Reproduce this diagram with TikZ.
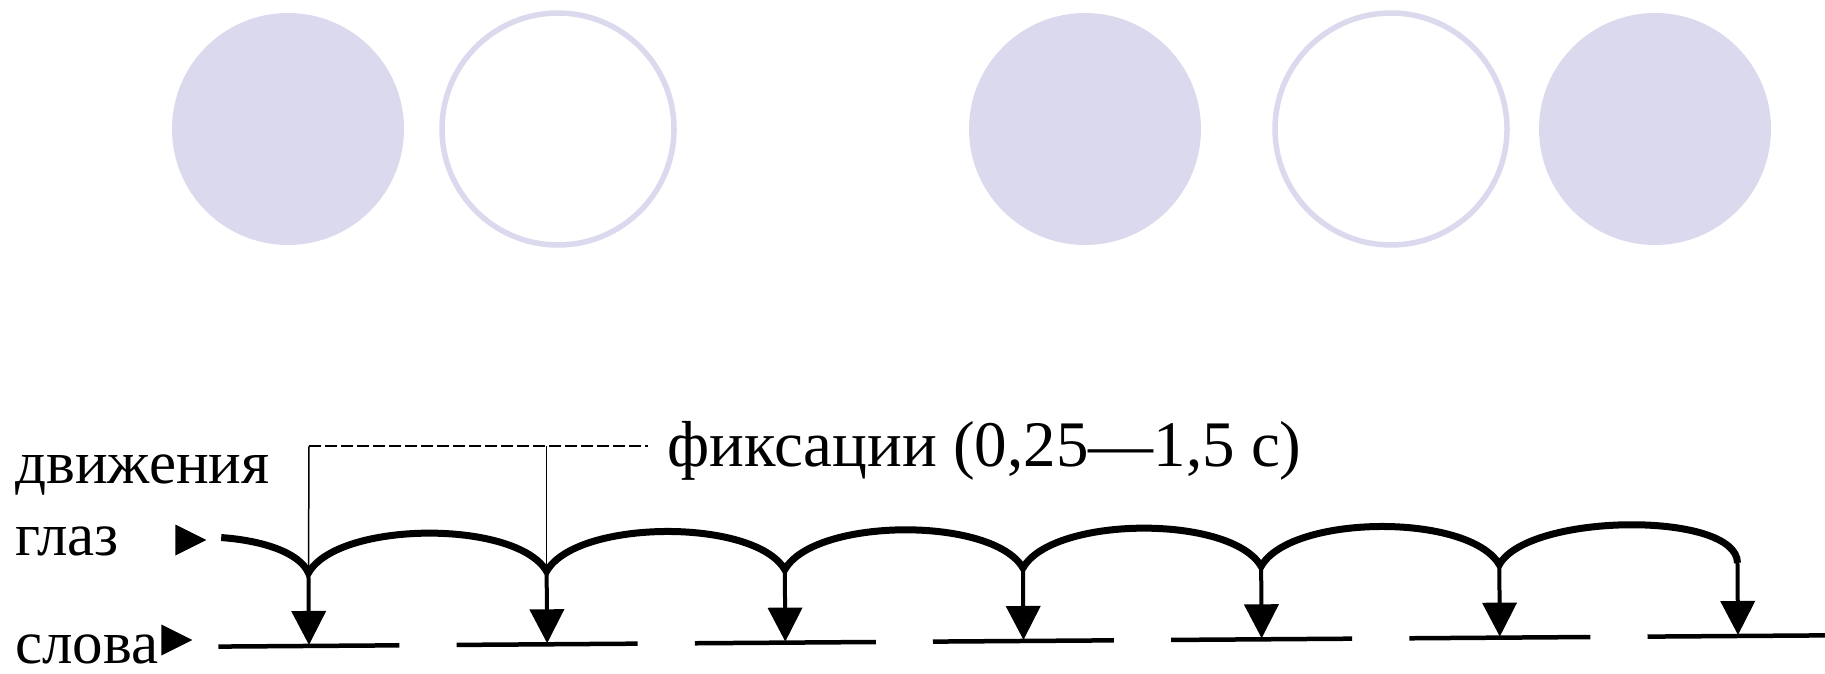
\documentclass[tikz,border=0pt]{standalone}
\usepackage{fontspec}
\setmainfont{Liberation Serif}
\usetikzlibrary{arrows.meta,shapes.geometric}
\definecolor{lav}{HTML}{DAD9ED}

\begin{document}
\begin{tikzpicture}[x=1pt,y=-1pt,
  lbl/.style={font=\fontsize{61}{61}\selectfont,inner sep=0pt,anchor=base west},
  disc/.style={circle,fill=lav,minimum size=232pt,inner sep=0pt},
  ring/.style={circle,draw=lav,line width=5.5pt,minimum size=232pt,inner sep=0pt},
  pointer/.style={isosceles triangle,isosceles triangle stretches,fill=black,
    inner sep=0pt,minimum width=31pt,minimum height=31pt},
  saccade/.style={line width=7pt},
  stem/.style={line width=4pt,-{Triangle[width=34pt,length=34pt]}},
  word/.style={line width=4.5pt},
  guide/.style={line width=1.5pt}]
  \useasboundingbox (0,0) rectangle (1825,674);
  % circles on top
  \foreach \pos/\kind [count=\i] in {288/disc,558/ring,1085/disc,1391/ring,1655/disc}
    \node[\kind] (c\i) at (\pos,129) {};
  % labels
  \node[lbl] (move) at (15,483) {движения};
  \node[lbl] (eyes) at (15,555) {глаз};
  \node[lbl] (words) at (15,663) {слова};
  \node[pointer] (peyes) at (185,540) {};
  \node[pointer] (pwords) at (171,640) {};
  \node[lbl,font=\fontsize{65}{65}\selectfont] (fix) at (667,466) {фиксации (0,25—1,5 с)};
  % eye path over the words
  \begin{scope}[rotate around={0.4:(309,647)}]
    \foreach \i in {0,...,6}{
      \pgfmathsetmacro\fx{309+238.2*\i}
      \coordinate (f\i) at (\fx,573);
      \coordinate (t\i) at (\fx,645);
      \coordinate (wl\i) at ({\fx-90.5},646);
      \coordinate (wr\i) at ({\fx+90.5},646);
      \draw[word] (wl\i) -- (wr\i);
    }
    \coordinate (s) at (222,537);
    \draw[saccade] (s) .. controls (262,540) and (300,552) .. (f0)
      \foreach \i [evaluate=\i as \j using int(\i+1)] in {0,...,4}{
        .. controls +(30,-52) and +(-30,-52) .. (f\j)}
      .. controls +(30,-52) and +(0,-52) .. (f6);
    \foreach \i in {0,...,6}
      \draw[stem] (f\i) -- (t\i);
  \end{scope}
  % fixation bracket
  \coordinate (g0) at (309,446);
  \coordinate (g1) at (g0 -| f1);
  \coordinate (gend) at (648,446);
  \draw[guide] (g0) -- (f0);
  \draw[guide] (g1) -- (f1);
  \draw[guide,dash pattern=on 12pt off 4pt] (g0) -- (gend);
\end{tikzpicture}
\end{document}
